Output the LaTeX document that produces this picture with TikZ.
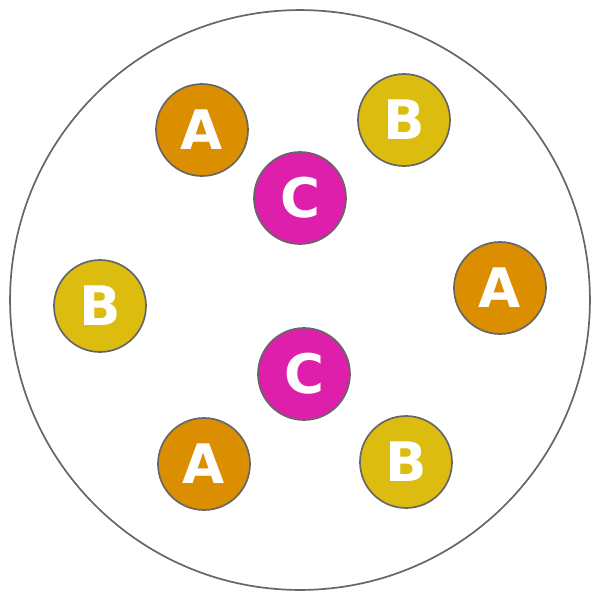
\documentclass[tikz,border=0pt]{standalone}
\usepackage{fontspec}
\setmainfont{DejaVu Sans}
\definecolor{cA}{HTML}{DB8E00}
\definecolor{cB}{HTML}{DDBC10}
\definecolor{cC}{HTML}{DD1FAB}
\definecolor{edge}{HTML}{666666}
\begin{document}
\begin{tikzpicture}[x=0.02cm,y=-0.02cm,
  ball/.style={circle,draw=edge,line width=0.034cm,minimum size=1.84cm,inner sep=0pt,
    text=white,font=\fontsize{31}{31}\selectfont\bfseries},
  ballA/.style={ball,fill=cA},
  ballB/.style={ball,fill=cB},
  ballC/.style={ball,fill=cC}]
\useasboundingbox (0,0) rectangle (600,600);
\node[circle,draw=edge,line width=0.034cm,minimum size=11.6cm,inner sep=0pt] (outer) at (300,300) {};
\node[ballA] (a1) at (202,130) {A};
\node[ballB] (b1) at (404,120) {B};
\node[ballC] (c1) at (300,198) {C};
\node[ballB] (b2) at (100,306) {B};
\node[ballA] (a2) at (500,288) {A};
\node[ballC] (c2) at (304,374) {C};
\node[ballA] (a3) at (204,464) {A};
\node[ballB] (b3) at (406,462) {B};
\end{tikzpicture}
\end{document}
